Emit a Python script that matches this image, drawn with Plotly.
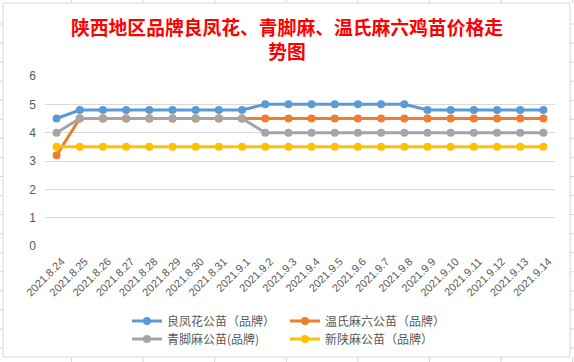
import plotly.graph_objects as go

dates = ["2021.8.24", "2021.8.25", "2021.8.26", "2021.8.27", "2021.8.28", "2021.8.29",
         "2021.8.30", "2021.8.31", "2021.9.1", "2021.9.2", "2021.9.3", "2021.9.4",
         "2021.9.5", "2021.9.6", "2021.9.7", "2021.9.8", "2021.9.9", "2021.9.10",
         "2021.9.11", "2021.9.12", "2021.9.13", "2021.9.14"]

liangfenghua = [4.5, 4.8, 4.8, 4.8, 4.8, 4.8, 4.8, 4.8, 4.8, 5.0, 5.0, 5.0,
                5.0, 5.0, 5.0, 5.0, 4.8, 4.8, 4.8, 4.8, 4.8, 4.8]
wenshima = [3.2, 4.5, 4.5, 4.5, 4.5, 4.5, 4.5, 4.5, 4.5, 4.5, 4.5, 4.5,
            4.5, 4.5, 4.5, 4.5, 4.5, 4.5, 4.5, 4.5, 4.5, 4.5]
qingjiaoma = [4.0, 4.5, 4.5, 4.5, 4.5, 4.5, 4.5, 4.5, 4.5, 4.0, 4.0, 4.0,
              4.0, 4.0, 4.0, 4.0, 4.0, 4.0, 4.0, 4.0, 4.0, 4.0]
xinshanma = [3.5] * 22

names = ["良凤花公苗（品牌）", "温氏麻六公苗（品牌）", "青脚麻公苗(品牌)", "新陕麻公苗（品牌）"]
colors = ["#5B9BD5", "#ED7D31", "#A5A5A5", "#FFC000"]
series = [liangfenghua, wenshima, qingjiaoma, xinshanma]
legends = ["legend", "legend2", "legend3", "legend4"]

W, H = 574, 362
L, R, T, B = 45, 19, 76, 116
PW, PH = W - L - R, H - T - B

fig = go.Figure()
for name, col, vals, lg in zip(names, colors, series, legends):
    fig.add_trace(go.Scatter(
        x=dates, y=vals, name=name, mode="lines+markers",
        line=dict(color=col, width=3),
        marker=dict(color=col, size=8, symbol="circle"),
        legend=lg,
    ))

def px_x(px):
    return (px - L) / PW

def px_y(py):
    return (H - B - py) / PH

shapes = []
border_col = "#D4D6DC"
# chart border
shapes.append(dict(type="rect", xref="paper", yref="paper",
                   x0=px_x(3), x1=px_x(570), y0=px_y(3), y1=px_y(357),
                   line=dict(color=border_col, width=1), fillcolor="rgba(0,0,0,0)", layer="below"))
# spreadsheet grid fragments outside the chart frame
for k in range(18):
    yy = 24 + 19.06 * k
    shapes.append(dict(type="line", xref="paper", yref="paper",
                       x0=px_x(0), x1=px_x(3), y0=px_y(yy), y1=px_y(yy),
                       line=dict(color=border_col, width=1)))
    shapes.append(dict(type="line", xref="paper", yref="paper",
                       x0=px_x(570), x1=px_x(574), y0=px_y(yy), y1=px_y(yy),
                       line=dict(color=border_col, width=1)))
for k in range(8):
    xx = 71.5 + 71.6 * k
    shapes.append(dict(type="line", xref="paper", yref="paper",
                       x0=px_x(xx), x1=px_x(xx), y0=px_y(0), y1=px_y(3),
                       line=dict(color=border_col, width=1)))
    shapes.append(dict(type="line", xref="paper", yref="paper",
                       x0=px_x(xx), x1=px_x(xx), y0=px_y(357), y1=px_y(362),
                       line=dict(color=border_col, width=1)))

legend_common = dict(
    orientation="h", xref="container", yref="container",
    xanchor="left", yanchor="middle",
    font=dict(family="Noto Sans CJK SC", size=12, color="#595959"),
    bgcolor="rgba(0,0,0,0)", borderwidth=0,
    itemclick=False, itemdoubleclick=False,
)

fig.update_layout(
    width=W, height=H,
    margin=dict(l=L, r=R, t=T, b=B, autoexpand=False),
    paper_bgcolor="white", plot_bgcolor="white",
    title=dict(
        text="陕西地区品牌良凤花、青脚麻、温氏麻六鸡苗价格走<br>势图",
        x=0.5, xref="container", xanchor="center",
        y=1 - 35 / H, yref="container", yanchor="top",
        font=dict(family="Noto Sans CJK SC", size=18.8, color="#FF0000", weight="bold"),
    ),
    xaxis=dict(
        type="category", range=[-0.5, 21.5], automargin=False,
        showgrid=False, zeroline=False, showline=False,
        tickangle=-45, ticks="", ticklabelstandoff=6, ticklabelshift=5,
        tickfont=dict(family="Liberation Sans", size=11, color="#595959"),
    ),
    yaxis=dict(
        range=[0, 6], dtick=1, tick0=0, automargin=False,
        showgrid=True, gridcolor="#D9D9D9", gridwidth=1,
        zeroline=False, showline=False, ticks="",
        ticklabelstandoff=8,
        tickfont=dict(family="Liberation Sans", size=12, color="#595959"),
    ),
    legend=dict(x=127 / W, y=1 - 321 / H, **legend_common),
    legend2=dict(x=285 / W, y=1 - 321 / H, **legend_common),
    legend3=dict(x=127 / W, y=1 - 339 / H, **legend_common),
    legend4=dict(x=285 / W, y=1 - 339 / H, **legend_common),
    shapes=shapes,
    showlegend=True,
)

fig.write_html(
    "out.html",
    config={"displayModeBar": False},
    post_script="document.body.style.margin='0';document.body.style.overflow='hidden';",
)
